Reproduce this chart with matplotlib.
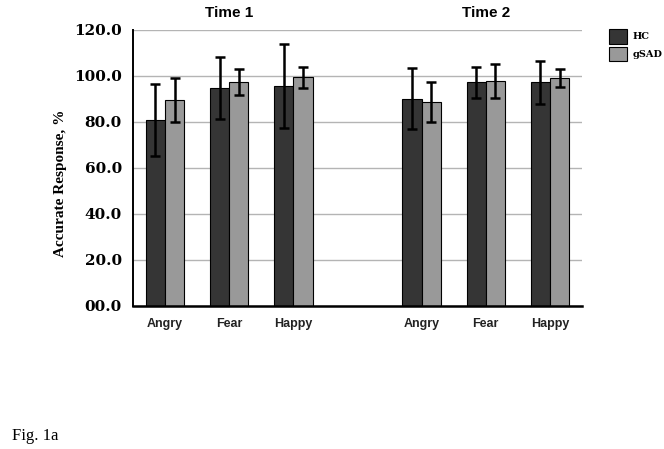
import matplotlib

matplotlib.use("Agg")
import matplotlib.pyplot as plt
import numpy as np
from matplotlib.patches import Patch

# data
emocoes = ["Angry", "Fear", "Happy"]
tempos = ["Time 1", "Time 2"]
hc_media = [81.0, 94.6, 95.8, 90.1, 97.3, 97.3]
hc_erro = [15.7, 13.5, 18.3, 13.2, 6.7, 9.4]
gsad_media = [89.6, 97.3, 99.4, 88.6, 97.8, 99.0]
gsad_erro = [9.5, 5.6, 4.5, 8.7, 7.3, 4.0]
yticks = [0, 20, 40, 60, 80, 100, 120]
ytick_labels = ["00.0", "20.0", "40.0", "60.0", "80.0", "100.0", "120.0"]

COR_HC = "#353535"
COR_GSAD = "#999999"

# two blocks of 3 groups with an empty slot between them
pos = np.array([0, 1, 2, 4, 5, 6], dtype=float)
larg = 0.3

fig = plt.figure(figsize=(6.64, 4.49), dpi=100)
ax = fig.add_axes([0.2003, 0.3185, 0.6762, 0.6147])

ax.set_axisbelow(True)
ax.yaxis.grid(True, color="#b4b4b4", linewidth=1.0)

err_kw = dict(ecolor="black", elinewidth=1.8, capsize=3.8, capthick=1.8)
ax.bar(pos - larg / 2, hc_media, larg, yerr=hc_erro, color=COR_HC,
       edgecolor="black", linewidth=0.8, error_kw=err_kw, zorder=2)
ax.bar(pos + larg / 2, gsad_media, larg, yerr=gsad_erro, color=COR_GSAD,
       edgecolor="black", linewidth=0.8, error_kw=err_kw, zorder=2)

ax.set_xlim(-0.5, 6.5)
ax.set_ylim(0, 120)
ax.set_yticks(yticks)
ax.set_yticklabels(ytick_labels, family="DejaVu Serif", fontweight="bold",
                   fontsize=11)
ax.set_xticks(pos)
ax.set_xticklabels(emocoes * 2, family="Liberation Sans", fontsize=9,
                   fontweight="bold", color="#222222")
ax.tick_params(axis="both", length=0)
ax.tick_params(axis="x", pad=9)
ax.tick_params(axis="y", pad=8)

ax.set_ylabel("Accurate Response, %", family="Liberation Serif",
              fontweight="bold", fontsize=11)
ax.yaxis.set_label_coords(-0.148, 0.445)

for s in ["top", "right"]:
    ax.spines[s].set_visible(False)
ax.spines["left"].set_linewidth(1.4)
ax.spines["bottom"].set_linewidth(1.8)

# time titles above each block
for t, x in zip(tempos, [1, 5]):
    ax.text(x, 1.035, t, transform=ax.get_xaxis_transform(), ha="center",
            va="bottom", family="Liberation Sans", fontweight="bold",
            fontsize=11)

handles = [Patch(facecolor=COR_HC, edgecolor="black", linewidth=0.8),
           Patch(facecolor=COR_GSAD, edgecolor="black", linewidth=0.8)]
fig.legend(handles, ["HC", "gSAD"], loc="upper left",
           bbox_to_anchor=(0.917, 0.935), frameon=False, borderpad=0,
           borderaxespad=0, handlelength=1.9, handleheight=1.9,
           labelspacing=0.35, handletextpad=0.5,
           prop={"family": "DejaVu Serif", "weight": "bold", "size": 7})

fig.text(0.018, 0.029, "Fig. 1a", family="Liberation Serif", fontsize=12,
         va="center", ha="left")

fig.savefig("out.png", dpi=100)
